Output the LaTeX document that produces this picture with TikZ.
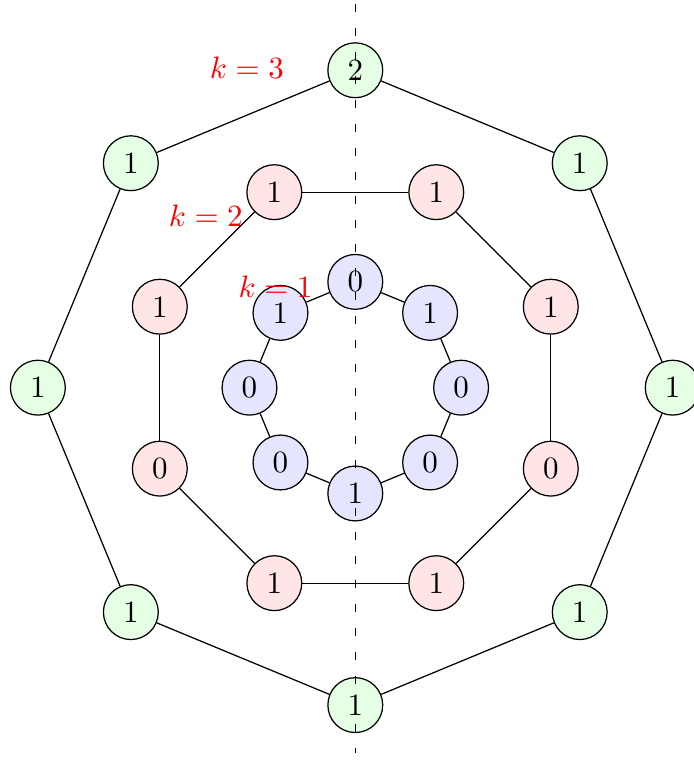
\documentclass[tikz,border=0pt]{standalone}
\begin{document}
\begin{tikzpicture}[x=1.2cm,y=1.2cm,
  vtx/.style={circle,draw,minimum size=17.7pt,inner sep=0pt},
  gv/.style={vtx,fill=green!10},
  rv/.style={vtx,fill=red!10},
  bv/.style={vtx,fill=blue!10},
  lab/.style={text=red,inner sep=0pt},
  axis/.style={dash pattern=on 2.58pt off 5.16pt}]
\useasboundingbox (-3.358,-3.604) rectangle (3.192,3.664);
% outer octagon
\foreach \i/\l in {1/2,2/1,3/1,4/1,5/1,6/1,7/1,8/1}
  \node[gv] (o\i) at ({90+45*(\i-1)}:3) {\l};
% middle octagon
\foreach \i/\l in {1/1,2/1,3/1,4/1,5/0,6/1,7/1,8/0}
  \node[rv] (m\i) at ({22.5+45*(\i-1)}:2) {\l};
% inner octagon
\foreach \i/\l in {1/0,2/1,3/0,4/0,5/1,6/0,7/0,8/1}
  \node[bv] (n\i) at ({90+45*(\i-1)}:1) {\l};
\foreach \i/\j in {1/2,2/3,3/4,4/5,5/6,6/7,7/8,8/1}{
  \draw (o\i) -- (o\j);
  \draw (m\i) -- (m\j);
  \draw (n\i) -- (n\j);
}
\coordinate (dt) at (0,3.626);
\coordinate (db) at (0,-3.453);
\draw[axis] (dt) -- (db);
\node[lab] (k3) at (-1.024,3.028) {$k=3$};
\node[lab] (k2) at (-1.413,1.624) {$k=2$};
\node[lab] (k1) at (-0.754,0.950) {$k=1$};
\end{tikzpicture}
\end{document}
